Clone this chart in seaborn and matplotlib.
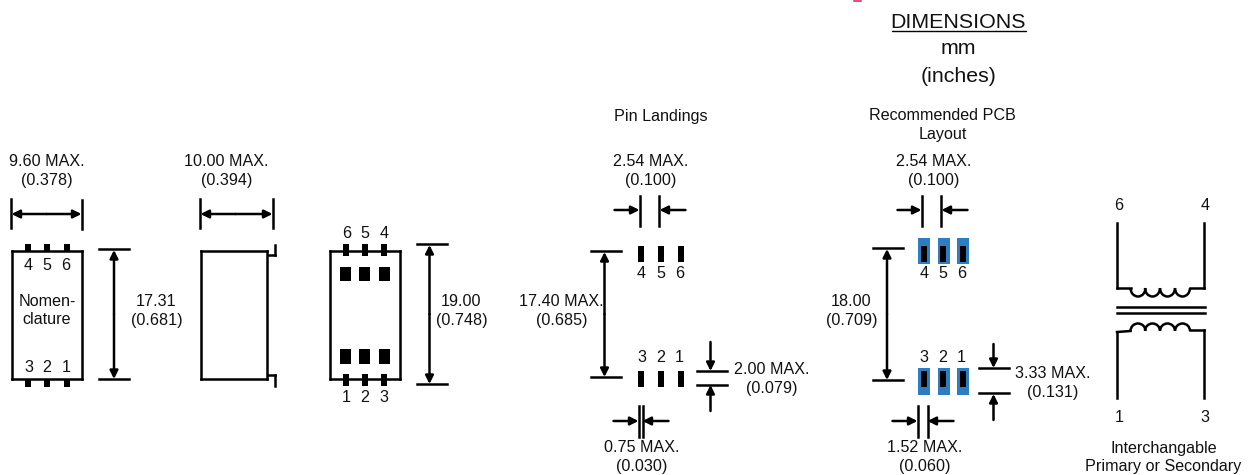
import pandas as pd
import matplotlib
matplotlib.use("Agg")
import matplotlib.pyplot as plt
from matplotlib.patches import Arc
import seaborn as sns

# ============================
# DRAWING DATA (picture pixels)
# ============================
BLACK = "#000000"
BLUE = "#2f7dc1"

# straight lines: x0, y0, x1, y1
outlines = [
    (12.5, 251, 82.5, 251), (82.5, 251, 82.5, 379), (82.5, 379, 12.5, 379), (12.5, 379, 12.5, 251),
    (201.5, 251, 267.5, 251), (267.5, 251, 267.5, 379), (267.5, 379, 201.5, 379), (201.5, 379, 201.5, 251),
    (330.5, 251, 400, 251), (400, 251, 400, 379), (400, 379, 330.5, 379), (330.5, 379, 330.5, 251),
    (268, 255, 275, 255), (275, 255, 275, 245), (268, 375, 275, 375), (275, 375, 275, 386),
]
extension_lines = [
    (11.5, 199, 11.5, 228), (82.5, 200, 82.5, 229),
    (99, 249, 129, 249), (99, 379, 129, 379),
    (200, 199, 200, 228), (273.5, 199, 273.5, 228),
    (417, 244, 447, 244), (417, 384, 447, 384),
    (640, 196, 640, 226), (659.5, 196, 659.5, 226),
    (591, 251, 621, 251), (591, 377, 621, 377),
    (697, 371, 727, 371), (697, 385, 727, 385),
    (639, 406, 639, 437), (643, 406, 643, 437),
    (922.5, 196, 922.5, 226), (941.5, 196, 941.5, 226),
    (873, 248, 903, 248), (873, 380, 903, 380),
    (979, 368, 1009, 368), (979, 393, 1009, 393),
    (918.5, 406, 918.5, 437), (928, 406, 928, 437),
]
transformer_lines = [
    (1117.5, 223, 1117.5, 288), (1117.5, 287.5, 1131, 287.5),
    (1190, 287.5, 1204, 287.5), (1204, 287.5, 1204, 223),
    (1117, 307, 1205, 307), (1117, 313, 1205, 313),
    (1117.5, 398, 1117.5, 332), (1117.5, 332, 1131, 331), (1190, 330, 1204, 330), (1204, 330, 1204, 398),
]

# double ended arrows, tail -> head
arrows = [
    (47, 214, 12, 214), (47, 214, 82, 214),
    (236, 214, 201, 214), (236, 214, 273, 214),
    (114.5, 314, 114.5, 250), (114.5, 314, 114.5, 379),
    (430, 314, 430, 245), (430, 314, 430, 384),
    (615, 210, 640, 210), (686, 210, 660, 210),
    (605, 314, 605, 252), (605, 314, 605, 377),
    (711, 342, 711, 371), (711, 411, 711, 385),
    (614, 421, 639, 421), (669, 421, 643, 421),
    (898, 210, 922, 210), (968, 210, 942, 210),
    (887.5, 314, 887.5, 249), (887.5, 314, 887.5, 380),
    (994, 344, 994, 368), (994, 420, 994, 394),
    (893, 421, 918, 421), (954, 421, 928, 421),
]

# filled parts: x center, width, y top, y bottom
pin_rows = [
    ([28, 47.5, 67], 6, 244, 251),
    ([28, 47.5, 67], 6, 379, 387),
    ([346, 365, 384.5], 6, 244, 256),
    ([346, 365, 384.5], 6, 374, 386),
    ([346, 365, 384.5], 11, 267, 281),
    ([346, 365, 384.5], 11, 349, 364),
    ([641.5, 661, 681], 6, 246, 262),
    ([641.5, 661, 681], 6, 371, 387),
    ([924, 943.5, 963], 6, 246, 262),
    ([924, 943.5, 963], 6, 371, 387),
]
pad_rows = [
    ([924, 944, 963], 12, 238, 264),
    ([924, 944, 963], 12, 368, 395),
]

# coil arcs: x centers, y center, height, start angle, end angle
coil_upper_x = [1138.5, 1153, 1168, 1183]
coil_lower_x = [1138.5, 1153, 1168, 1183]
coil_upper = (288, 17, 0, 180)
coil_lower = (331, 15, 180, 360)

# text: x center, y center, label
small_labels = [
    (47, 161, "9.60 MAX."), (47, 180, "(0.378)"),
    (227, 161, "10.00 MAX."), (227, 180, "(0.394)"),
    (29, 265, "4"), (47.5, 265, "5"), (66.5, 265, "6"),
    (47.5, 301, "Nomen-"), (47.5, 320, "clature"),
    (29, 368, "3"), (47.5, 368, "2"), (66.5, 368, "1"),
    (157, 301, "17.31"), (157, 320, "(0.681)"),
    (347, 234, "6"), (365.5, 234, "5"), (384.5, 234, "4"),
    (347, 398, "1"), (365.5, 398, "2"), (384.5, 398, "3"),
    (462, 301, "19.00"), (462, 320, "(0.748)"),
    (661, 116, "Pin Landings"),
    (651, 161, "2.54 MAX."), (651, 180, "(0.100)"),
    (642, 274, "4"), (661, 274, "5"), (680, 274, "6"),
    (642, 358, "3"), (661, 358, "2"), (680, 358, "1"),
    (562, 301, "17.40 MAX."), (562, 320, "(0.685)"),
    (772, 370, "2.00 MAX."), (772, 388, "(0.079)"),
    (642.5, 448, "0.75 MAX."), (642.5, 467, "(0.030)"),
    (943, 116, "Recommended PCB"), (943, 135, "Layout"),
    (934, 161, "2.54 MAX."), (934, 180, "(0.100)"),
    (924.5, 274, "4"), (943.5, 274, "5"), (962, 274, "6"),
    (924.5, 358, "3"), (943.5, 358, "2"), (962, 358, "1"),
    (852, 301, "18.00"), (852, 320, "(0.709)"),
    (1053, 374, "3.33 MAX."), (1053, 393, "(0.131)"),
    (925, 448, "1.52 MAX."), (925, 467, "(0.060)"),
    (1119.5, 206, "6"), (1205.5, 206, "4"),
    (1119.5, 418, "1"), (1205.5, 418, "3"),
    (1164, 449, "Interchangable"), (1164, 467, "Primary or Secondary"),
]
big_labels = [
    (959, 23, "DIMENSIONS"), (959, 48, "mm"), (959, 76, "(inches)"),
]

# ============================
# FIGURE
# ============================
sns.set_theme(style="white")
plt.rcParams["font.family"] = ["Liberation Sans", "DejaVu Sans"]

fig = plt.figure(figsize=(12.51, 4.75), dpi=100)
ax = fig.add_axes([0, 0, 1, 1])


def draw_segments(segments, lw):
    rows = []
    for i, (x0, y0, x1, y1) in enumerate(segments):
        rows.append({"seg": i, "order": 0, "x": x0, "y": y0})
        rows.append({"seg": i, "order": 1, "x": x1, "y": y1})
    df = pd.DataFrame(rows)
    sns.lineplot(data=df, x="x", y="y", units="seg", estimator=None, sort=False,
                 color=BLACK, linewidth=lw, ax=ax, legend=False,
                 solid_capstyle="projecting")


# blue pads sit under the black pins
for xs, w, top, bottom in pad_rows:
    ax.bar(xs, bottom - top, width=w, bottom=top, color=BLUE, linewidth=0)
for xs, w, top, bottom in pin_rows:
    ax.bar(xs, bottom - top, width=w, bottom=top, color=BLACK, linewidth=0)

draw_segments(outlines, 1.8)
draw_segments(extension_lines, 1.8)
draw_segments(transformer_lines, 1.8)

for x0, y0, x1, y1 in arrows:
    ax.annotate("", xy=(x1, y1), xytext=(x0, y0),
                arrowprops=dict(arrowstyle="-|>", color=BLACK, lw=1.8, mutation_scale=12,
                                shrinkA=0, shrinkB=0))

for xs, (cy, h, t1, t2) in ((coil_upper_x, coil_upper), (coil_lower_x, coil_lower)):
    for cx in xs:
        ax.add_patch(Arc((cx, cy), 15, h, theta1=t1, theta2=t2, color=BLACK, lw=1.8))

for x, y, label in small_labels:
    ax.text(x, y, label, ha="center", va="center", fontsize=11.6, color="#111111")
for x, y, label in big_labels:
    ax.text(x, y, label, ha="center", va="center", fontsize=15.4, color="#111111")

# heading underline and the clipped red sliver at the top edge
ax.plot([892, 1026], [31, 31], color=BLACK, lw=1)
ax.plot([854, 861], [0.5, 0.5], color="#e8507a", lw=1.5)

ax.set_xlim(0.5, 1251.5)
ax.set_ylim(475, 0)
ax.set_xlabel("")
ax.set_ylabel("")
ax.axis("off")

fig.savefig("out.png", dpi=100, facecolor="white")
plt.close(fig)
